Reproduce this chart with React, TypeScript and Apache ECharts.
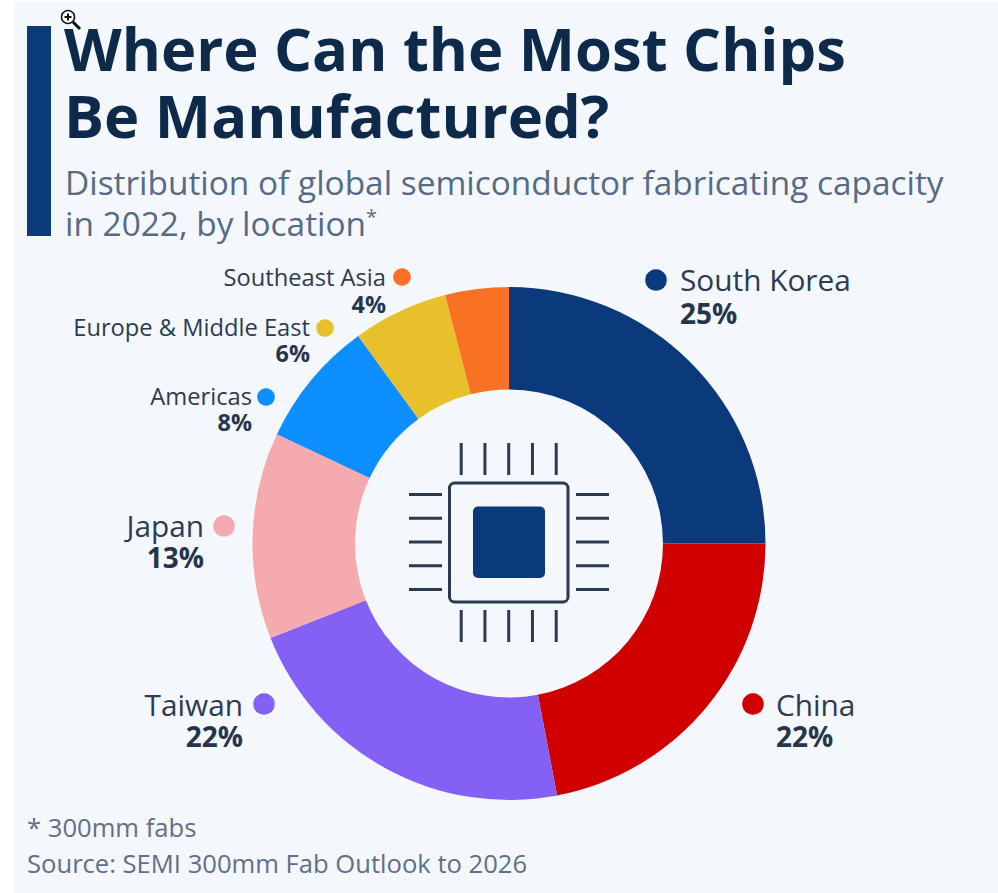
import React, { useEffect, useRef } from "react";
import * as echarts from "echarts";

const locations = ["South Korea", "China", "Taiwan", "Japan", "Americas", "Europe & Middle East", "Southeast Asia"];
const shares = [25, 22, 22, 13, 8, 6, 4];
const colours = ["#0a3a7c", "#d00000", "#8560f5", "#f4aaaf", "#0e8fff", "#e8c02c", "#f97223"];
const titleLines = ["Where Can the Most Chips", "Be Manufactured?"];
const subtitleLines = ["Distribution of global semiconductor fabricating capacity", "in 2022, by location{sup|*}"];
const footnotes = ["* 300mm fabs", "Source: SEMI 300mm Fab Outlook to 2026"];

const FONT = "Open Sans";
const CX = 509;
const CY = 543.5;

const labelSpots = [
  { x: 680, y: 296, dx: 656, dy: 280, size: 29.8, pct: 28, line: 33, align: "left" },
  { x: 776, y: 720, dx: 753, dy: 704, size: 29.8, pct: 28, line: 32, align: "left" },
  { x: 243, y: 720, dx: 264, dy: 704, size: 29.8, pct: 28, line: 32, align: "right" },
  { x: 204, y: 541, dx: 224, dy: 526, size: 29.8, pct: 28, line: 32, align: "right" },
  { x: 252, y: 409, dx: 266, dy: 397, size: 23.7, pct: 23.4, line: 26, align: "right" },
  { x: 310, y: 340, dx: 325, dy: 328, size: 23.7, pct: 23.4, line: 26, align: "right" },
  { x: 386, y: 290, dx: 402, dy: 277, size: 23.7, pct: 23.4, line: 27, align: "right" },
];

const pinOffsets = [-47.5, -23.75, 0, 23.75, 47.5];

export default function App() {
  const ref = useRef<HTMLDivElement>(null);
  useEffect(() => {
    const chart = echarts.init(ref.current!, null, { renderer: "svg" });
    const graphics: any[] = [
      { type: "rect", shape: { x: 14, y: 2, width: 984, height: 891 }, style: { fill: "#f4f7fb" }, z: -1 },
      { type: "rect", shape: { x: 27, y: 26, width: 24, height: 210 }, style: { fill: "#0a3a7c" } },
    ];
    titleLines.forEach((t, i) => {
      graphics.push({
        type: "text", x: 64, y: 47 + i * 67,
        style: { text: t, font: `700 59.7px "${FONT}"`, fill: "#0d2a4a", textAlign: "left", textVerticalAlign: "middle" },
      });
    });
    subtitleLines.forEach((t, i) => {
      graphics.push({
        type: "text", x: 65, y: 182 + i * 41,
        style: {
          text: t, font: `400 33.4px "${FONT}"`, fill: "#566b85", textAlign: "left", textVerticalAlign: "middle",
          rich: { sup: { fontFamily: FONT, fontSize: 20, fill: "#566b85", verticalAlign: "top", lineHeight: 24 } },
        },
      });
    });
    footnotes.forEach((t, i) => {
      graphics.push({
        type: "text", x: 27, y: 827 + i * 36,
        style: { text: t, font: `400 25.6px "${FONT}"`, fill: "#5f7088", textAlign: "left", textVerticalAlign: "middle" },
      });
    });
    locations.forEach((name, i) => {
      const s = labelSpots[i];
      graphics.push({ type: "circle", shape: { cx: s.dx, cy: s.dy, r: s.size > 25 ? 10.8 : 8.8 }, style: { fill: colours[i] } });
      graphics.push({
        type: "text", x: s.x, y: s.y,
        style: {
          text: `{n|${name}}\n{p|${shares[i]}%}`,
          textAlign: s.align, textVerticalAlign: "middle",
          rich: {
            n: { fontFamily: FONT, fontSize: s.size, fontWeight: 400, fill: "#2c3b52", lineHeight: s.line },
            p: { fontFamily: FONT, fontSize: s.pct, fontWeight: 700, fill: "#26354c", lineHeight: s.line },
          },
        },
      });
    });
    // chip icon
    const ink = "#2b3a50";
    const cx = 508.7;
    const cy = 542.5;
    graphics.push({ type: "rect", shape: { x: 449.5, y: 483, width: 118.5, height: 119, r: 5 }, style: { fill: "none", stroke: ink, lineWidth: 3 } });
    graphics.push({ type: "rect", shape: { x: 473, y: 506.5, width: 72, height: 71.5, r: 5 }, style: { fill: "#0a3a7c" } });
    pinOffsets.forEach((o) => {
      const c = cx + o;
      const m = cy + o - 0.5;
      [[c, 443, c, 475], [c, 610, c, 642]].forEach(([x1, y1, x2, y2]) =>
        graphics.push({ type: "line", shape: { x1, y1, x2, y2 }, style: { stroke: ink, lineWidth: 3 } }));
      [[409, m, 442, m], [576, m, 609, m]].forEach(([x1, y1, x2, y2]) =>
        graphics.push({ type: "line", shape: { x1, y1, x2, y2 }, style: { stroke: ink, lineWidth: 3 } }));
    });
    // magnifier cursor seen at the top of the picture
    graphics.push({ type: "line", shape: { x1: 73, y1: 22, x2: 80, y2: 29 }, style: { stroke: "#111", lineWidth: 3 }, z: 5 });
    graphics.push({ type: "circle", shape: { cx: 68, cy: 17, r: 6.5 }, style: { fill: "#fff", stroke: "#111", lineWidth: 1.5 }, z: 5 });
    graphics.push({ type: "line", shape: { x1: 64.5, y1: 17, x2: 71.5, y2: 17 }, style: { stroke: "#111", lineWidth: 2 }, z: 6 });
    graphics.push({ type: "line", shape: { x1: 68, y1: 13.5, x2: 68, y2: 20.5 }, style: { stroke: "#111", lineWidth: 2 }, z: 6 });
    chart.setOption({
      animation: false,
      backgroundColor: "#ffffff",
      graphic: { elements: graphics },
      series: [{
        type: "pie",
        center: [CX, CY],
        radius: [154, 256.5],
        startAngle: 90,
        clockwise: true,
        silent: true,
        label: { show: false },
        labelLine: { show: false },
        data: locations.map((name, i) => ({ name, value: shares[i], itemStyle: { color: colours[i] } })),
      }],
    });
    return () => chart.dispose();
  }, []);
  return <div ref={ref} style={{ position: "fixed", left: 0, top: 0, width: 998, height: 893 }} />;
}
